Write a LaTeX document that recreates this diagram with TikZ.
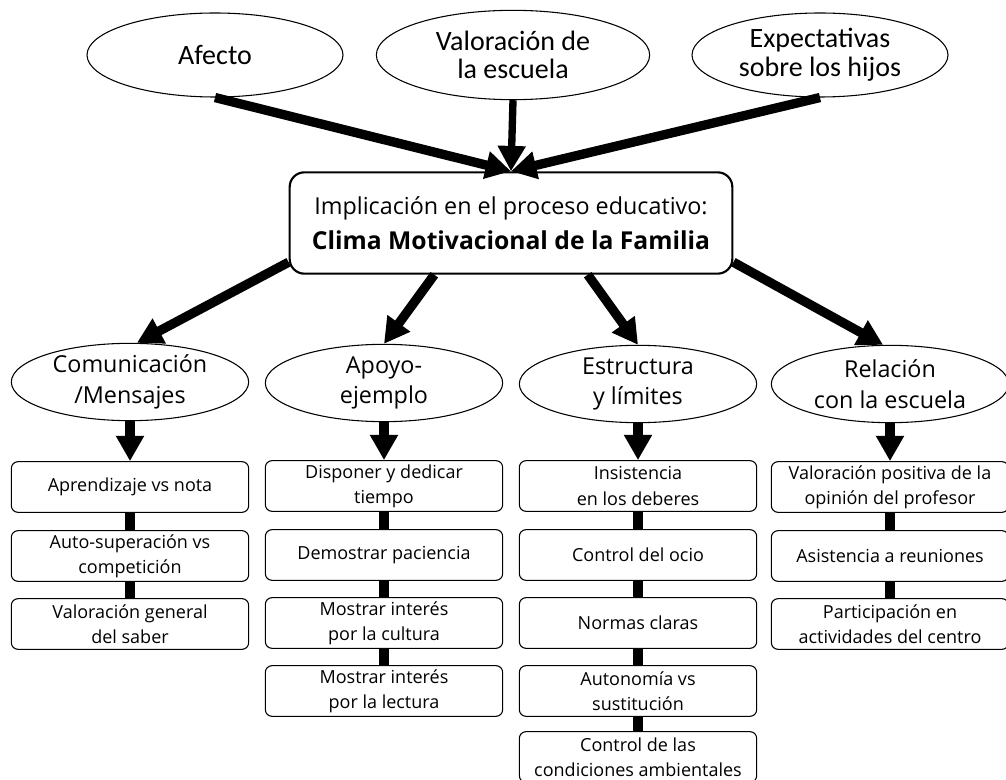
\documentclass[tikz,border=0pt]{standalone}
\usepackage{fontspec}
\setmainfont{Open Sans}
\newfontfamily\topfont{Carlito}
\usetikzlibrary{shapes.geometric,arrows.meta,positioning}

\tikzset{
  topoval/.style={ellipse, draw, line width=0.8pt, minimum height=63pt,
                  align=center, inner sep=0pt,
                  font=\topfont\fontsize{21}{21.5}\selectfont},
  dimoval/.style={ellipse, draw, line width=0.8pt, minimum width=178pt,
                  minimum height=58pt, align=center, inner sep=0pt,
                  font=\fontsize{17.5}{23}\selectfont},
  itembox/.style={rectangle, draw, rounded corners=5pt, line width=0.8pt,
                  minimum width=178pt, minimum height=38pt, inner sep=0pt,
                  align=center, font=\fontsize{13.5}{19}\selectfont},
  mainbox/.style={rectangle, draw, rounded corners=11pt, line width=1.6pt,
                  minimum width=332pt, minimum height=76pt, align=center,
                  font=\fontsize{17.5}{26}\selectfont},
  bigarrow/.style={line width=7pt, -{Triangle[length=19pt,width=20pt]}},
  linkbar/.style={line width=7.5pt},
}

\begin{document}
\begin{tikzpicture}[x=0.75pt, y=-0.75pt]
    \useasboundingbox (0,0) rectangle (1006,780);

    % top influences
    \node[topoval, minimum width=192pt] (afecto) at (215,55) {Afecto};
    \node[topoval, minimum width=205pt, minimum height=67pt] (valora) at (513,55)
         {Valoración de\\la escuela};
    \node[topoval, minimum width=192pt] (expect) at (820,55)
         {Expectativas\\sobre los hijos};

    % central box
    \node[mainbox] (clima) at (511,223)
         {Implicación en el proceso educativo:\\
          {\fontsize{18.5}{26}\selectfont\bfseries Clima Motivacional de la Familia}};

    \draw[bigarrow] (afecto.south) -- (clima.north);
    \draw[bigarrow, line width=5.5pt] (valora.south) -- (clima.north);
    \draw[bigarrow] (expect.south) -- (clima.north);

    % dimensions
    \node[dimoval] (comun) at (130,382) {Comunicación\\/Mensajes};
    \node[dimoval] (apoyo) at (384,383) {Apoyo-\\ejemplo};
    \node[dimoval] (estru) at (638,384) {Estructura\\y límites};
    \node[dimoval] (relac) at (890,384) {Relación\\con la escuela};

    \draw[bigarrow] (clima.190) -- (comun.80);
    \draw[bigarrow] (clima.-146) -- (apoyo.north);
    \draw[bigarrow] (clima.-34) -- (estru.north);
    \draw[bigarrow] (clima.-10) -- (relac.100);

    % Comunicacion / Mensajes
    \node[itembox] (c1) at (130,487) {Aprendizaje vs nota};
    \node[itembox] (c2) at (130,556) {Auto-superación vs\\competición};
    \node[itembox] (c3) at (130,624) {Valoración general\\del saber};

    % Apoyo-ejemplo
    \node[itembox] (a1) at (384,486) {Disponer y dedicar\\tiempo};
    \node[itembox] (a2) at (384,555) {Demostrar paciencia};
    \node[itembox] (a3) at (384,623) {Mostrar interés\\por la cultura};
    \node[itembox] (a4) at (384,691) {Mostrar interés\\por la lectura};

    % Estructura y limites
    \node[itembox] (e1) at (638,486) {Insistencia\\en los deberes};
    \node[itembox] (e2) at (638,555) {Control del ocio};
    \node[itembox] (e3) at (638,623) {Normas claras};
    \node[itembox] (e4) at (638,691) {Autonomía vs\\sustitución};
    \node[itembox] (e5) at (638,757) {Control de las\\condiciones ambientales};

    % Relacion con la escuela
    \node[itembox] (r1) at (890,487) {Valoración positiva de la\\opinión del profesor};
    \node[itembox] (r2) at (890,556) {Asistencia a reuniones};
    \node[itembox] (r3) at (890,624) {Participación en\\actividades del centro};

    \draw[bigarrow] (comun.south) -- (c1.north);
    \draw[bigarrow] (apoyo.south) -- (a1.north);
    \draw[bigarrow] (estru.south) -- (e1.north);
    \draw[bigarrow] (relac.south) -- (r1.north);

    \foreach \u/\v in {c1/c2,c2/c3,a1/a2,a2/a3,a3/a4,e1/e2,e2/e3,e3/e4,e4/e5,r1/r2,r2/r3}
        \draw[linkbar] (\u.south) -- (\v.north);
\end{tikzpicture}
\end{document}
